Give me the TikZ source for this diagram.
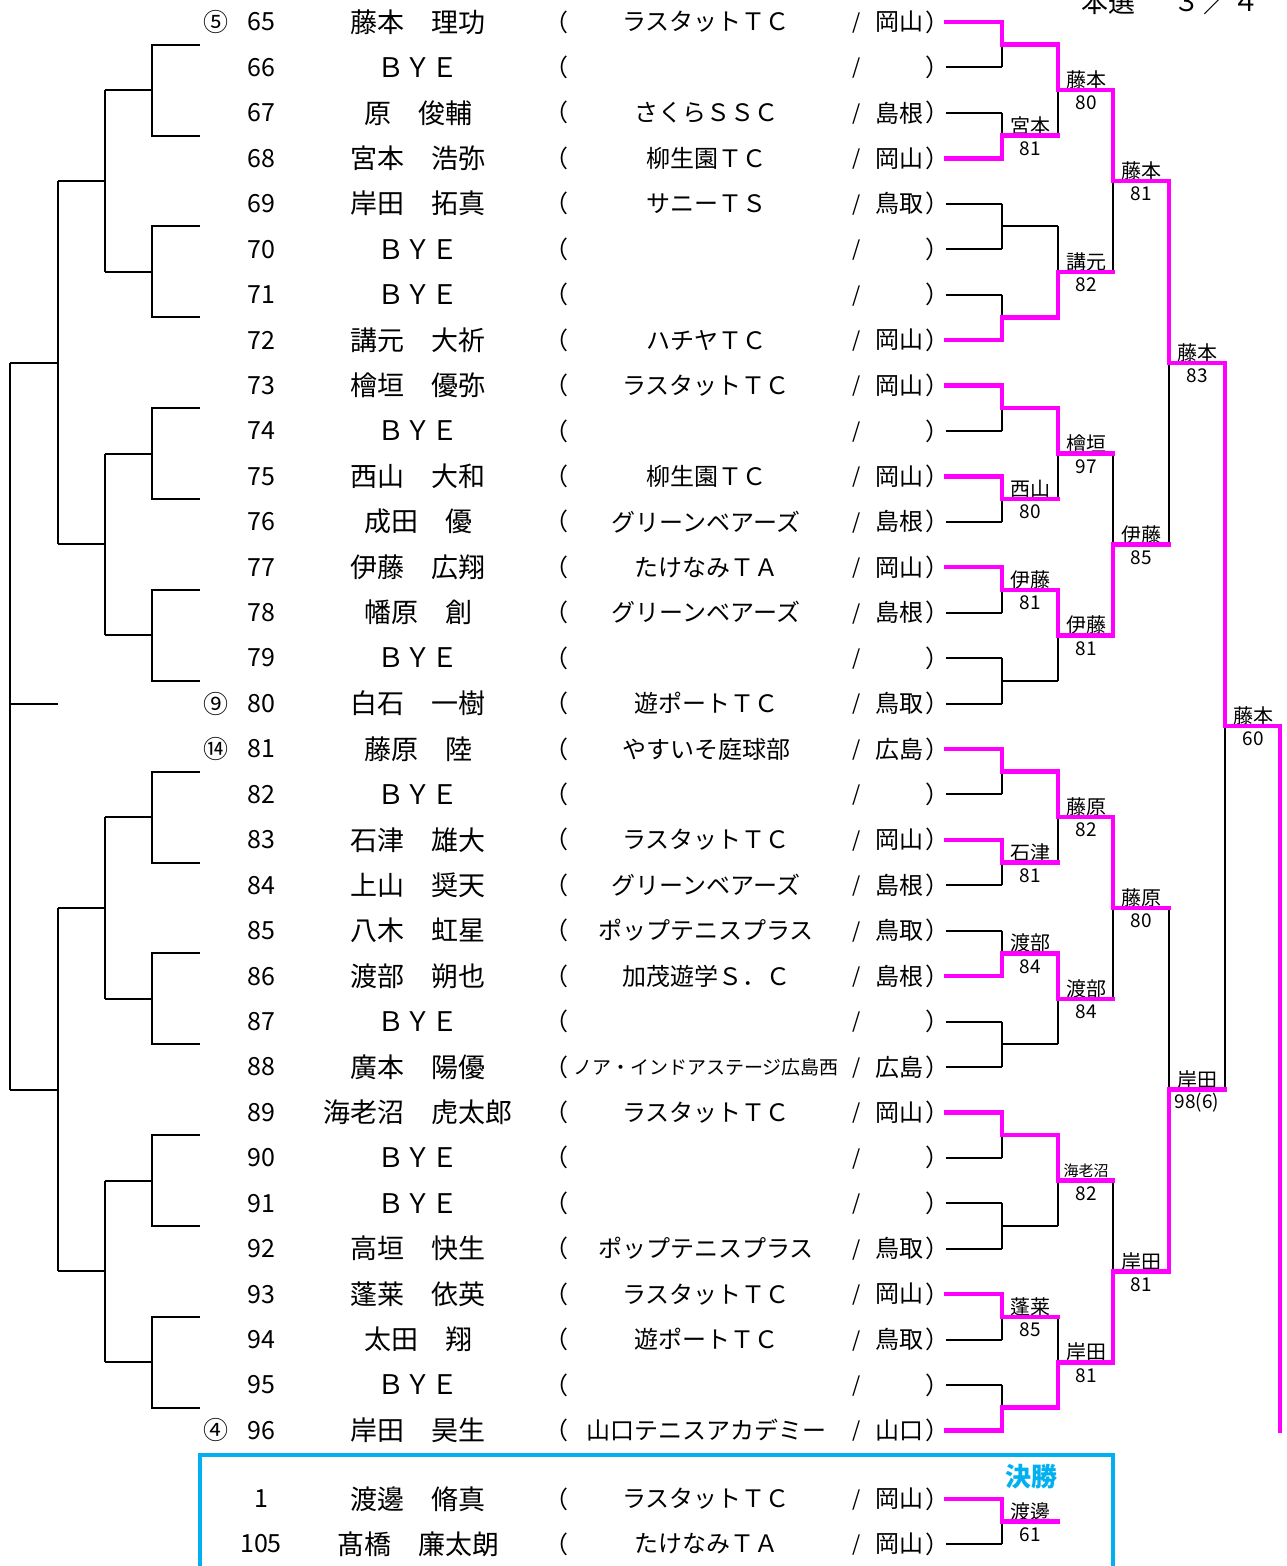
\documentclass[tikz,border=0pt]{standalone}
\usepackage{fontspec}
\setmainfont{Noto Sans CJK JP}
\usetikzlibrary{calc}
\pgfdeclarelayer{fg}
\pgfsetlayers{main,fg}
\definecolor{mag}{RGB}{255,0,255}
\definecolor{cy}{RGB}{0,176,240}
\tikzset{
  blk/.style={line width=2pt, black},
  win/.style={line width=4.5pt, mag, line cap=rect},
  txt/.style={inner sep=0pt, anchor=center},
  numf/.style={txt, font=\fontsize{25}{30}\selectfont},
  seedf/.style={txt, font=\fontsize{25}{30}\selectfont},
  namef/.style={txt, font=\fontsize{27}{32}\selectfont},
  teamf/.style={txt, font=\fontsize{24}{28}\selectfont},
  slashf/.style={txt, font=\fontsize{21}{24}\selectfont},
  lblf/.style={txt, font=\fontsize{20}{24}\selectfont},
  scoref/.style={txt, font=\fontsize{19}{22}\selectfont},
  titlef/.style={txt, font=\fontsize{27}{32}\selectfont},
  finalf/.style={txt, font=\fontsize{26}{30}\selectfont\bfseries, text=cy},
}
\newcommand\mymatch[5]{%
  \pgfmathsetmacro\mym{(#3+#4)/2}%
  \draw[blk] (#1,#3) -- (#1,#4);
  \draw[blk] (#1,\mym) -- (#2,\mym);
  \ifnum#5=1\relax
    \begin{pgfonlayer}{fg}\draw[win] (#1,#3) -- (#1,\mym) -- (#2,\mym);\end{pgfonlayer}
  \fi
  \ifnum#5=2\relax
    \begin{pgfonlayer}{fg}\draw[win] (#1,#4) -- (#1,\mym) -- (#2,\mym);\end{pgfonlayer}
  \fi
}
\begin{document}
\begin{tikzpicture}[x=1pt,y=-1pt]
\useasboundingbox (0,0) rectangle (1287,1566);
\def\dd{45.433}
% title
\node[titlef] (t1) at (1108,2) {本選};
\node[titlef] (t2) at (1187,2) {３};
\node[titlef] (t3) at (1217,2) {／};
\node[titlef] (t4) at (1246,2) {４};
% rows
\foreach \i/\xseed/\xname/\xteam/\xpref in {
65/⑤/藤本　理功/ラスタットＴＣ/岡山,
66/{}/ＢＹＥ/{}/{},
67/{}/原　俊輔/さくらＳＳＣ/島根,
68/{}/宮本　浩弥/柳生園ＴＣ/岡山,
69/{}/岸田　拓真/サニーＴＳ/鳥取,
70/{}/ＢＹＥ/{}/{},
71/{}/ＢＹＥ/{}/{},
72/{}/講元　大祈/ハチヤＴＣ/岡山,
73/{}/檜垣　優弥/ラスタットＴＣ/岡山,
74/{}/ＢＹＥ/{}/{},
75/{}/西山　大和/柳生園ＴＣ/岡山,
76/{}/成田　優/グリーンベアーズ/島根,
77/{}/伊藤　広翔/たけなみＴＡ/岡山,
78/{}/幡原　創/グリーンベアーズ/島根,
79/{}/ＢＹＥ/{}/{},
80/⑨/白石　一樹/遊ポートＴＣ/鳥取,
81/⑭/藤原　陸/やすいそ庭球部/広島,
82/{}/ＢＹＥ/{}/{},
83/{}/石津　雄大/ラスタットＴＣ/岡山,
84/{}/上山　奨天/グリーンベアーズ/島根,
85/{}/八木　虹星/ポップテニスプラス/鳥取,
86/{}/渡部　朔也/加茂遊学Ｓ．Ｃ/島根,
87/{}/ＢＹＥ/{}/{},
88/{}/廣本　陽優/{\fontsize{19}{22}\selectfont ノア・インドアステージ広島西}/広島,
89/{}/海老沼　虎太郎/ラスタットＴＣ/岡山,
90/{}/ＢＹＥ/{}/{},
91/{}/ＢＹＥ/{}/{},
92/{}/高垣　快生/ポップテニスプラス/鳥取,
93/{}/蓬莱　依英/ラスタットＴＣ/岡山,
94/{}/太田　翔/遊ポートＴＣ/鳥取,
95/{}/ＢＹＥ/{}/{},
96/④/岸田　昊生/山口テニスアカデミー/山口}
{
  \pgfmathsetmacro\yy{22+(\i-65)*\dd}
  \node[seedf] (seed\i) at (216,\yy) {\xseed};
  \node[numf] (num\i) at (261,\yy) {\i};
  \node[namef] (name\i) at (418,\yy) {\xname};
  \node[teamf] (po\i) at (556,\yy) {（};
  \node[teamf] (team\i) at (706,\yy) {\xteam};
  \node[slashf] (sl\i) at (857,\yy+1) {/};
  \node[teamf] (pref\i) at (899,\yy) {\xpref};
  \node[teamf] (pc\i) at (937,\yy) {）};
  \coordinate (e\i) at (946,\yy);
  \coordinate (j\i) at (1002,\yy);
}
% final rows
\foreach \i/\yy/\xname/\xteam in {1/1499/渡邊　脩真/ラスタットＴＣ, 105/1544/髙橋　廉太朗/たけなみＴＡ}
{
  \node[numf] (num\i) at (261,\yy) {\i};
  \node[namef] (name\i) at (418,\yy) {\xname};
  \node[teamf] (po\i) at (556,\yy) {（};
  \node[teamf] (team\i) at (706,\yy) {\xteam};
  \node[slashf] (sl\i) at (857,\yy+1) {/};
  \node[teamf] (pref\i) at (899,\yy) {岡山};
  \node[teamf] (pc\i) at (937,\yy) {）};
  \coordinate (e\i) at (946,\yy);
  \coordinate (j\i) at (1002,\yy);
}
% round-1 inputs
\foreach \i in {66,67,69,70,71,74,76,78,79,80,82,84,85,87,88,90,91,92,94,95,105}
  \draw[blk] (e\i) -- (j\i);
\begin{pgfonlayer}{fg}
\foreach \i in {65,68,72,73,75,77,81,83,86,89,93,96,1}
  \draw[win] (e\i) -- (j\i);
\end{pgfonlayer}
% right bracket rounds
\foreach \k/\w in {0/1,1/2,2/0,3/2,4/1,5/1,6/1,7/0,8/1,9/1,10/2,11/0,12/1,13/0,14/1,15/2}{
  \pgfmathsetmacro\ya{22+2*\k*\dd}\pgfmathsetmacro\yb{\ya+\dd}
  \mymatch{1002}{1058}{\ya}{\yb}{\w}
}
\foreach \k/\w in {0/1,1/2,2/1,3/1,4/1,5/1,6/1,7/2}{
  \pgfmathsetmacro\ya{22+(4*\k+0.5)*\dd}\pgfmathsetmacro\yb{\ya+2*\dd}
  \mymatch{1058}{1113}{\ya}{\yb}{\w}
}
\foreach \k/\w in {0/1,1/2,2/1,3/2}{
  \pgfmathsetmacro\ya{22+(8*\k+1.5)*\dd}\pgfmathsetmacro\yb{\ya+4*\dd}
  \mymatch{1113}{1169}{\ya}{\yb}{\w}
}
\foreach \k/\w in {0/1,1/2}{
  \pgfmathsetmacro\ya{22+(16*\k+3.5)*\dd}\pgfmathsetmacro\yb{\ya+8*\dd}
  \mymatch{1169}{1225}{\ya}{\yb}{\w}
}
\pgfmathsetmacro\ya{22+7.5*\dd}\pgfmathsetmacro\yb{\ya+16*\dd}
\mymatch{1225}{1280}{\ya}{\yb}{1}
\coordinate (semiA) at (1280,726.2);
\coordinate (semiB) at (1280,1431);
\begin{pgfonlayer}{fg}
\draw[win] (semiA) -- (semiB);
\end{pgfonlayer}
% final match
\mymatch{1002}{1058}{1499}{1544}{1}
% labels
\foreach \xc/\yc/\lname/\lscore [count=\c] in {
1030/135.58/宮本/81, 1030/499.05/西山/80, 1030/589.91/伊藤/81,
1030/862.51/石津/81, 1030/953.38/渡部/84, 1030/1316.84/蓬莱/85, 1030/1521.5/渡邊/61,
1086/90.15/藤本/80, 1086/271.88/講元/82, 1086/453.61/檜垣/97, 1086/635.35/伊藤/81,
1086/817.08/藤原/82, 1086/998.81/渡部/84, 1086/1180.54/{\fontsize{15}{18}\selectfont 海老沼}/82,
1086/1362.27/岸田/81,
1141/181.02/藤本/81, 1141/544.48/伊藤/85, 1141/907.94/藤原/80, 1141/1271.41/岸田/81,
1197/362.75/藤本/83, 1197/1089.68/岸田/98(6),
1253/726.21/藤本/60}
{
  \node[lblf] (ln\c) at (\xc,\yc-10) {\lname};
  \node[scoref] (ls\c) at (\xc,\yc+13) {\lscore};
}
% left bracket
\foreach \k in {0,...,7}{
  \pgfmathsetmacro\ya{22+(4*\k+0.5)*\dd}\pgfmathsetmacro\yb{\ya+2*\dd}
  \pgfmathsetmacro\ym{(\ya+\yb)/2}
  \draw[blk] (200,\ya) -- (152,\ya) -- (152,\yb) -- (200,\yb);
  \draw[blk] (152,\ym) -- (105,\ym);
}
\foreach \k in {0,...,3}{
  \pgfmathsetmacro\ya{22+(8*\k+1.5)*\dd}\pgfmathsetmacro\yb{\ya+4*\dd}
  \pgfmathsetmacro\ym{(\ya+\yb)/2}
  \draw[blk] (105,\ya) -- (105,\yb);
  \draw[blk] (105,\ym) -- (58,\ym);
}
\foreach \k in {0,1}{
  \pgfmathsetmacro\ya{22+(16*\k+3.5)*\dd}\pgfmathsetmacro\yb{\ya+8*\dd}
  \pgfmathsetmacro\ym{(\ya+\yb)/2}
  \draw[blk] (58,\ya) -- (58,\yb);
  \draw[blk] (58,\ym) -- (10,\ym);
}
\draw[blk] (10,{22+7.5*\dd}) -- (10,{22+23.5*\dd});
\draw[blk] (10,704) -- (58,704);
% final box
\draw[cy, line width=4pt] (200,1575) -- (200,1455) -- (1113,1455) -- (1113,1575);
\node[finalf] (kessho) at (1031,1477) {決勝};
\end{tikzpicture}
\end{document}
